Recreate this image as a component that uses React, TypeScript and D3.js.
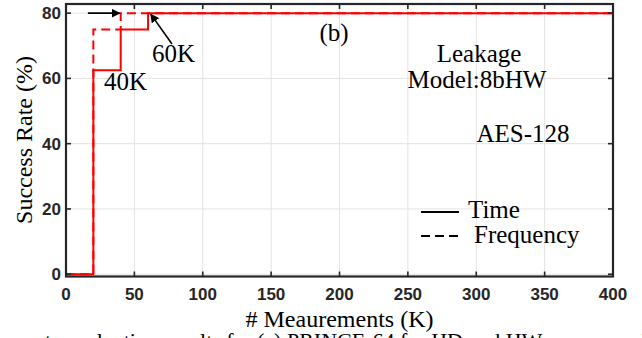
import React, { useEffect, useRef } from "react";
import * as d3 from "d3";

const timeX = [0, 20, 40, 60, 400];
const timeY = [0, 62.5, 75, 80, 80];
const freqX = [0, 20, 40, 400];
const freqY = [0, 75, 80, 80];

const xTicks = [0, 50, 100, 150, 200, 250, 300, 350, 400];
const yTicks = [0, 20, 40, 60, 80];
const legendLabels = ["Time", "Frequency"];

const W = 642, H = 338;
const AXIS = "#262626";
const SERIF = "'Liberation Serif', 'Times New Roman', serif";
const SANS = "'Liberation Sans', Arial, sans-serif";

const App = () => {
  const ref = useRef<SVGSVGElement>(null);

  useEffect(() => {
    const svg = d3.select(ref.current);
    svg.selectAll("*").remove();

    const x = d3.scaleLinear().domain([0, 400]).range([66, 613]);
    const y = d3.scaleLinear().domain([-0.7, 82.8]).range([276.5, 4]);
    const [x0, x1] = x.range();
    const [yb, yt] = y.range();

    const defs = svg.append("defs");
    defs.append("marker")
      .attr("id", "ah")
      .attr("viewBox", "0 0 10 10")
      .attr("refX", 9).attr("refY", 5)
      .attr("markerWidth", 9).attr("markerHeight", 9)
      .attr("markerUnits", "userSpaceOnUse")
      .attr("orient", "auto")
      .append("path").attr("d", "M0,0 L10,5 L0,10 z").attr("fill", "#000");

    // grid
    const g = svg.append("g");
    g.selectAll(".gx").data(xTicks.slice(1, -1)).enter().append("line")
      .attr("x1", d => x(d)).attr("x2", d => x(d)).attr("y1", yt).attr("y2", yb)
      .attr("stroke", "#e3e3e3").attr("stroke-width", 1);
    g.selectAll(".gy").data(yTicks).enter().append("line")
      .attr("x1", x0).attr("x2", x1).attr("y1", d => y(d)).attr("y2", d => y(d))
      .attr("stroke", "#e3e3e3").attr("stroke-width", 1);

    // series
    const line = d3.line<[number, number]>()
      .x(d => x(d[0])).y(d => y(d[1]))
      .curve(d3.curveStepAfter);
    const timePts = timeX.map((v, i) => [v, timeY[i]] as [number, number]);
    const freqPts = freqX.map((v, i) => [v, freqY[i]] as [number, number]);

    svg.append("path").attr("d", line(freqPts))
      .attr("fill", "none").attr("stroke", "#ff0000").attr("stroke-width", 2)
      .attr("stroke-dasharray", "9,5");
    svg.append("path").attr("d", line(timePts))
      .attr("fill", "none").attr("stroke", "#ff0000").attr("stroke-width", 2);

    // box + inward ticks
    svg.append("rect")
      .attr("x", x0).attr("y", yt).attr("width", x1 - x0).attr("height", yb - yt)
      .attr("fill", "none").attr("stroke", AXIS).attr("stroke-width", 2.2);
    const tk = svg.append("g").attr("stroke", AXIS).attr("stroke-width", 1.6);
    xTicks.forEach(t => {
      tk.append("line").attr("x1", x(t)).attr("x2", x(t)).attr("y1", yb).attr("y2", yb - 5);
      tk.append("line").attr("x1", x(t)).attr("x2", x(t)).attr("y1", yt).attr("y2", yt + 5);
    });
    yTicks.forEach(t => {
      tk.append("line").attr("x1", x0).attr("x2", x0 + 5).attr("y1", y(t)).attr("y2", y(t));
      tk.append("line").attr("x1", x1).attr("x2", x1 - 5).attr("y1", y(t)).attr("y2", y(t));
    });

    // tick labels
    svg.append("g").selectAll("text").data(xTicks).enter().append("text")
      .attr("x", d => x(d)).attr("y", 300)
      .attr("text-anchor", "middle")
      .attr("font-family", SANS).attr("font-weight", "bold").attr("font-size", 17)
      .attr("fill", AXIS).text(d => d);
    svg.append("g").selectAll("text").data(yTicks).enter().append("text")
      .attr("x", 61).attr("y", d => y(d) + 6)
      .attr("text-anchor", "end")
      .attr("font-family", SANS).attr("font-weight", "bold").attr("font-size", 17)
      .attr("fill", AXIS).text(d => d);

    const txt = (s: string, tx: number, ty: number, anchor = "start", size = 25) =>
      svg.append("text").attr("x", tx).attr("y", ty).attr("text-anchor", anchor)
        .attr("font-family", SERIF).attr("font-size", size).attr("fill", "#000").text(s);

    // axis titles
    txt("# Meaurements (K)", (x0 + x1) / 2, 327, "middle", 24);
    svg.append("text")
      .attr("transform", `translate(32, 140) rotate(-90)`)
      .attr("text-anchor", "middle")
      .attr("font-family", SERIF).attr("font-size", 24).text("Success Rate (%)");

    // annotations
    txt("(b)", 334, 41, "middle");
    txt("60K", 152, 62);
    txt("40K", 104, 90);
    txt("Leakage", 479, 62, "middle");
    txt("Model:8bHW", 477, 88, "middle");
    txt("AES-128", 523, 142, "middle");

    svg.append("line").attr("x1", x(16)).attr("y1", y(80)).attr("x2", x(40) - 1).attr("y2", y(80))
      .attr("stroke", "#000").attr("stroke-width", 1.6).attr("marker-end", "url(#ah)");
    svg.append("line").attr("x1", 172).attr("y1", 44).attr("x2", x(62)).attr("y2", y(80) + 1)
      .attr("stroke", "#000").attr("stroke-width", 1.6).attr("marker-end", "url(#ah)");

    // legend
    const lg = svg.append("g");
    lg.append("line").attr("x1", 421).attr("x2", 459).attr("y1", 212).attr("y2", 212)
      .attr("stroke", "#000").attr("stroke-width", 2);
    lg.append("line").attr("x1", 421).attr("x2", 459).attr("y1", 236).attr("y2", 236)
      .attr("stroke", "#000").attr("stroke-width", 2).attr("stroke-dasharray", "9,5");
    txt(legendLabels[0], 468, 218, "start", 25);
    txt(legendLabels[1], 474, 243, "start", 25);

    // clipped caption line below the figure
    txt("success rate evaluation results for", 252, 348, "end", 22);
    txt("(a) PRINCE-64 for HD and HW power model", 257, 348, "start", 22);
  }, []);

  return (
    <svg ref={ref} width={W} height={H}
      style={{ position: "absolute", left: 0, top: 0, background: "#fff" }} />
  );
};

export default App;
